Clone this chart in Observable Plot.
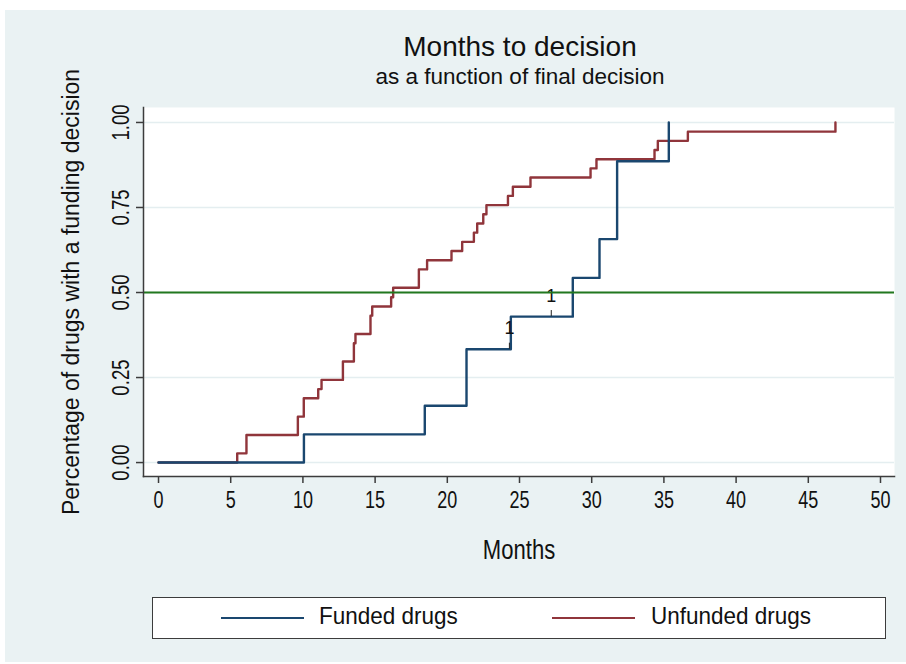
<!DOCTYPE html>
<html><head><meta charset="utf-8">
<script src="https://cdn.jsdelivr.net/npm/d3@7"></script>
<script src="https://cdn.jsdelivr.net/npm/@observablehq/plot@0.6"></script>
<style>
html,body{margin:0;padding:0;background:#fff;}
#wrap{position:relative;width:906px;height:664px;overflow:hidden;font-family:"Liberation Sans",Arial,sans-serif;color:#111;}
#bg{position:absolute;left:5px;top:10px;width:901px;height:652px;background:#eaf2f3;}
#chart{position:absolute;left:0;top:0;}
.t{position:absolute;left:0;width:1040px;text-align:center;white-space:nowrap;}
#title{top:33px;font-size:28px;line-height:28px;}
#subtitle{top:66px;font-size:22.5px;line-height:22.5px;}
#legend{position:absolute;left:152px;top:597px;width:734px;height:42px;box-sizing:border-box;border:1.5px solid #3c3c3c;background:#fff;}
.sw{position:absolute;height:2px;}
.lt{position:absolute;font-size:22.5px;line-height:22.5px;white-space:nowrap;transform:scaleY(1.08);transform-origin:0 50%;}
</style></head>
<body>
<div id="wrap">
  <div id="bg"></div>
  <div id="chart"></div>
  <div class="t" id="title">Months to decision</div>
  <div class="t" id="subtitle">as a function of final decision</div>
  <div id="legend"></div>
</div>
<script>
// ---- data ----
const fundedMonths = [0, 10.07, 18.44, 21.33, 24.40, 28.69, 30.54, 31.76, 31.76, 35.34];
const fundedShare  = [0, 0.083, 0.167, 0.333, 0.429, 0.543, 0.657, 0.771, 0.886, 1.000];
const fundedCensoredMonths = [24.30, 27.20];
const fundedCensoredShare  = [0.333, 0.429];
const fundedCensoredCount  = [1, 1];
const unfundedMonths = [0, 5.45, 6.09, 9.65, 10.06, 11.06, 11.29, 12.77, 13.53, 13.64, 14.68, 14.80, 16.11, 16.25, 18.03, 18.60, 20.29, 21.03, 21.84, 22.07, 22.49, 22.71, 24.20, 24.54, 25.76, 29.92, 30.33, 34.35, 34.58, 36.66, 46.88];
const unfundedShare  = [0, 0.027, 0.081, 0.135, 0.189, 0.216, 0.243, 0.297, 0.351, 0.378, 0.432, 0.459, 0.486, 0.514, 0.568, 0.595, 0.622, 0.649, 0.676, 0.703, 0.730, 0.757, 0.784, 0.811, 0.838, 0.865, 0.892, 0.919, 0.946, 0.973, 1.000];
const medianLine = [0.5];
const xTicks = [0, 5, 10, 15, 20, 25, 30, 35, 40, 45, 50];
const yTicks = [0, 0.25, 0.5, 0.75, 1];
const seriesNames = ["Funded drugs", "Unfunded drugs"];
const seriesColors = ["#1a476f", "#90353b"];

const funded = fundedMonths.map((m, i) => ({month: m, share: fundedShare[i]}));
const unfunded = unfundedMonths.map((m, i) => ({month: m, share: unfundedShare[i]}));
const censored = fundedCensoredMonths.map((m, i) => ({month: m, share: fundedCensoredShare[i], count: fundedCensoredCount[i]}));

const axisColor = "#3c3c3c";
const chart = Plot.plot({
  width: 906, height: 600,
  marginLeft: 143, marginRight: 12, marginTop: 107, marginBottom: 124,
  style: {background: "transparent", fontFamily: "Liberation Sans, Arial, sans-serif", overflow: "visible", color: "#111"},
  x: {domain: [-1.04, 50.97]},
  y: {domain: [-0.041, 1.044]},
  marks: [
    Plot.frame({fill: "white", stroke: "none"}),
    Plot.gridY(yTicks, {stroke: "#e4eef0", strokeOpacity: 1, strokeWidth: 1.5}),
    Plot.line(unfunded, {x: "month", y: "share", curve: "step-after", stroke: seriesColors[1], strokeWidth: 2.4}),
    Plot.line(funded, {x: "month", y: "share", curve: "step-after", stroke: seriesColors[0], strokeWidth: 2.4}),
    Plot.ruleX(censored, {x: "month", y1: "share", y2: d => d.share + 0.018, stroke: "#222", strokeWidth: 1}),
    Plot.text(censored, {x: "month", y: "share", text: d => String(d.count), dy: -15, lineAnchor: "bottom", fontSize: 18, fill: "#111"}),
    Plot.ruleY(medianLine, {stroke: "#22781f", strokeWidth: 2}),
    Plot.frame({anchor: "left", stroke: axisColor, strokeWidth: 1.5}),
    Plot.frame({anchor: "bottom", stroke: axisColor, strokeWidth: 1.5}),
    Plot.axisX({ticks: xTicks, tickSize: 7, tickPadding: 7, fontSize: 20, stroke: axisColor, strokeWidth: 1.5, label: null}),
    Plot.axisX({ticks: [], tickSize: 0, fontSize: 24, label: "Months", labelAnchor: "center", labelOffset: 82, labelArrow: "none"}),
    Plot.axisY({ticks: yTicks, tickSize: 7, tickPadding: 8, tickRotate: -90, tickFormat: d3.format(".2f"), fontSize: 20, stroke: axisColor, strokeWidth: 1.5, label: null}),
    Plot.axisY({ticks: [], tickSize: 0, fontSize: 23, label: "Percentage of drugs with a funding decision", labelAnchor: "center", labelOffset: 81, labelArrow: "none"})
  ]
});
document.getElementById("chart").appendChild(chart);

// texts in the reference use a condensed face: emulate by a local scale
function condense(selector, size, sx, sy) {
  chart.querySelectorAll(selector).forEach(g => {
    g.setAttribute("font-size", size);
    g.querySelectorAll("text").forEach(t => {
      t.style.fontSize = size + "px";
      const tr = t.getAttribute("transform") || "";
      t.setAttribute("transform", tr + ` scale(${sx},${sy})`);
    });
  });
}
condense('[aria-label="x-axis tick label"]', 20, 0.9, 1.2);
condense('[aria-label="y-axis tick label"]', 20, 0.93, 1.2);
condense('[aria-label="x-axis label"]', 24, 0.92, 1.12);

// legend
const legend = document.getElementById("legend");
const swX = [220 - 152, 551 - 152];
const txX = [318 - 152, 650 - 152];
seriesNames.forEach((name, i) => {
  const sw = document.createElement("div");
  sw.className = "sw";
  sw.style.left = swX[i] + "px"; sw.style.top = "19px"; sw.style.width = "83px"; sw.style.background = seriesColors[i];
  legend.appendChild(sw);
  const t = document.createElement("div");
  t.className = "lt";
  t.style.left = txX[i] + "px"; t.style.top = "7px";
  t.textContent = name;
  legend.appendChild(t);
});
</script>
</body></html>
